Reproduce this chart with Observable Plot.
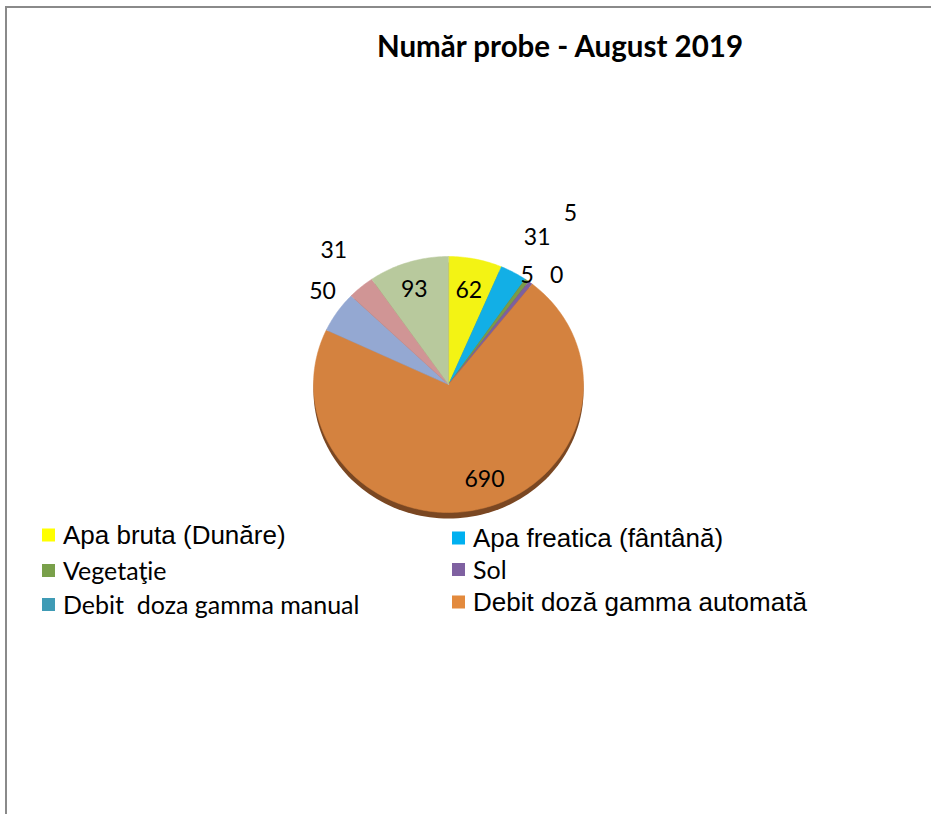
<!DOCTYPE html>
<html>
<head>
<meta charset="utf-8">
<script src="https://cdn.jsdelivr.net/npm/d3@7"></script>
<script src="https://cdn.jsdelivr.net/npm/@observablehq/plot@0.6"></script>
<style>
  html, body { margin: 0; padding: 0; background: #fff; }
  body { width: 931px; height: 814px; position: relative; overflow: hidden; }
  #frame { position: absolute; left: 5px; top: 6px; width: 960px; height: 840px;
           border-left: 2px solid #8a8a8a; border-top: 2px solid #8a8a8a; }
  #title { position: absolute; left: 0; top: 0; width: 931px; height: 70px; }
  #title span { position: absolute; left: 560px; top: 45px; transform: translate(-50%, -50%);
                font-family: Lato, "Open Sans", sans-serif; font-weight: 700; font-size: 29.5px;
                white-space: nowrap; color: #000; }
  #chart { position: absolute; left: 0; top: 70px; }
  #legend { position: absolute; left: 0; top: 520px; width: 931px; height: 120px; }
  .item { position: absolute; display: flex; align-items: center; white-space: nowrap; color: #000; }
  .sw { width: 13px; height: 13px; margin-right: 8px; flex: none; }
</style>
</head>
<body>
<div id="frame"></div>
<div id="title"><span>Număr probe - August 2019</span></div>
<div id="chart"></div>
<div id="legend"></div>
<script>
// ---- data ----
const categories = [
  "Apa bruta (Dunăre)",
  "Apa freatica (fântână)",
  "Vegetaţie",
  "Sol",
  "Debit  doza gamma manual",
  "Debit doză gamma automată",
  "Seria 7",
  "Seria 8",
  "Seria 9"
];
const values = [62, 31, 5, 5, 0, 690, 50, 31, 93];
const sliceColors = ["#f3f314", "#12afe6", "#7b9b47", "#7d60a0", "#4bacc6", "#d4823f", "#94a8d2", "#d09595", "#b8c99d"];
const legendColors = ["#ffff00", "#00b0f0", "#79a04a", "#7f61a1", "#3f9bb5", "#e38a3d"];
const legendCount = 6;

// ---- label layout (angle offset in degrees, radius factor) ----
const labelOffsetDeg = [0, 1, -1.4, -2.9, 4.9, -6.5, 3.2, 1.4, -1.6];
const labelRadius = [0.75, 1.32, 1.61, 1.03, 1.17, 0.79, 1.18, 1.35, 0.78];

// ---- build slices ----
const arcs = d3.pie().sort(null).value(d => d)(values);
const rad = Math.PI / 180;
const polys = [];
arcs.forEach((a, i) => {
  if (a.endAngle - a.startAngle <= 0) return;
  polys.push({k: i, x: 0, y: 0});
  const n = Math.max(2, Math.ceil((a.endAngle - a.startAngle) / rad));
  for (let j = 0; j <= n; j++) {
    const t = a.startAngle + (a.endAngle - a.startAngle) * j / n;
    polys.push({k: i, x: Math.sin(t), y: Math.cos(t)});
  }
});
const ellipse = d3.range(0, 361, 2).map(d => ({x: Math.sin(d * rad), y: Math.cos(d * rad)}));
const labels = arcs.map((a, i) => {
  const m = (a.startAngle + a.endAngle) / 2 + labelOffsetDeg[i] * rad;
  return {x: labelRadius[i] * Math.sin(m), y: labelRadius[i] * Math.cos(m), text: String(values[i])};
});

const cx = 448, cy = 384 - 70, rx = 135, ry = 128;
const plot = Plot.plot({
  width: 931,
  height: 450,
  margin: 0,
  x: {domain: [-1, 1], range: [cx - rx, cx + rx], axis: null},
  y: {domain: [-1, 1], range: [cy + ry, cy - ry], axis: null},
  style: {background: "transparent", overflow: "visible"},
  marks: [
    Plot.line(ellipse, {x: "x", y: "y", curve: "linear-closed", fill: "#7a4722", stroke: "none", dy: 6}),
    Plot.line(polys, {x: "x", y: "y", z: "k", curve: "linear-closed",
      fill: d => sliceColors[d.k], stroke: d => sliceColors[d.k], strokeWidth: 0.5}),
    Plot.text(labels, {x: "x", y: "y", text: "text", fontSize: 23, fontFamily: "Lato, sans-serif", fill: "#000"})
  ]
});
document.getElementById("chart").appendChild(plot);

// ---- legend ----
const legendPos = [
  {left: 42, top: 15, font: "Liberation Sans, Arial, sans-serif", size: 26},
  {left: 452, top: 18, font: "Liberation Sans, Arial, sans-serif", size: 26},
  {left: 42, top: 50, font: "Lato, sans-serif", size: 25},
  {left: 452, top: 49, font: "Lato, sans-serif", size: 25},
  {left: 42, top: 84, font: "Lato, sans-serif", size: 25},
  {left: 452, top: 82, font: "Liberation Sans, Arial, sans-serif", size: 26}
];
const leg = document.getElementById("legend");
for (let i = 0; i < legendCount; i++) {
  const p = legendPos[i];
  const it = document.createElement("div");
  it.className = "item";
  it.style.left = p.left + "px";
  it.style.top = p.top + "px";
  it.style.transform = "translateY(-50%)";
  it.style.fontFamily = p.font;
  it.style.fontSize = p.size + "px";
  const sw = document.createElement("span");
  sw.className = "sw";
  sw.style.background = legendColors[i];
  const tx = document.createElement("span");
  tx.textContent = categories[i];
  tx.style.whiteSpace = "pre";
  it.appendChild(sw);
  it.appendChild(tx);
  leg.appendChild(it);
}
</script>
</body>
</html>
